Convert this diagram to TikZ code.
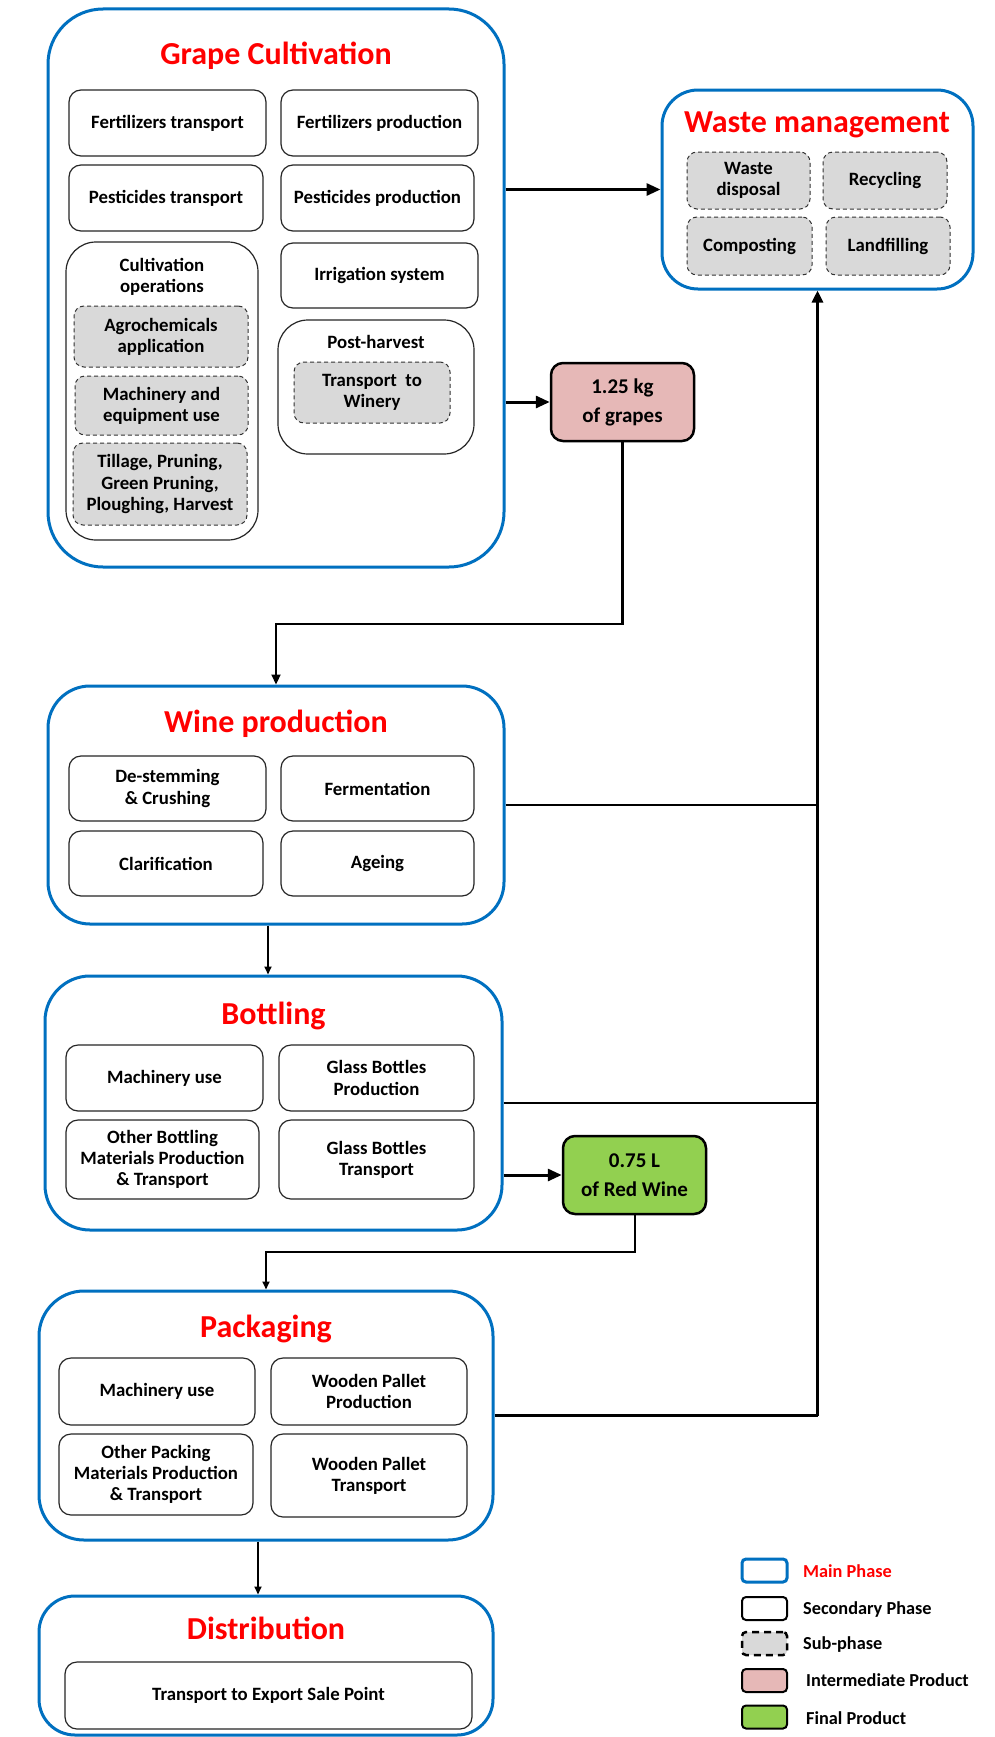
\documentclass[tikz,border=0pt]{standalone}
\usepackage{fontspec}
\setmainfont{Carlito}
\usetikzlibrary{arrows.meta}
\definecolor{mainblue}{HTML}{0070C0}
\definecolor{titlered}{HTML}{FF0000}
\definecolor{subgray}{HTML}{D9D9D9}
\definecolor{interpink}{HTML}{E6B8B7}
\definecolor{finalgreen}{HTML}{92D050}
\tikzset{
  mainph/.style={draw=mainblue, line width=3pt, rounded corners=#1, inner sep=0pt},
  mainph/.default=40pt,
  phtitle/.style={text=titlered, font=\bfseries\fontsize{32}{36}\selectfont, inner sep=0pt},
  secbox/.style={draw=black!85, line width=1.2pt, rounded corners=#1, align=center, inner sep=0pt,
    font=\bfseries\fontsize{18.8}{21.2}\selectfont},
  secbox/.default=12pt,
  subbox/.style={draw=black!80, fill=subgray, line width=1pt, dash pattern=on 4pt off 3pt,
    rounded corners=10pt, align=center, inner sep=0pt, font=\bfseries\fontsize{18.8}{21.2}\selectfont},
  txt/.style={align=center, inner sep=0pt, font=\bfseries\fontsize{18.8}{21.2}\selectfont},
  prodbox/.style={draw=black, line width=2.5pt, rounded corners=12pt, align=center, inner sep=0pt,
    font=\bfseries\fontsize{21}{29}\selectfont},
  thickarrow/.style={line width=3pt, -{Triangle[length=14pt,width=12pt]}},
  thickline/.style={line width=3.2pt},
  conn/.style={line width=2.2pt},
  connarrow/.style={line width=2.2pt, -{Triangle[length=10pt,width=9pt]}},
  lgbox/.style={minimum width=45pt, minimum height=23pt, inner sep=0pt, rounded corners=4pt},
  lgtxt/.style={anchor=west, inner sep=0pt, font=\bfseries\fontsize{18.3}{21}\selectfont},
}
\begin{document}
\begin{tikzpicture}[x=1pt, y=-1pt]
\fill[white] (0,0) rectangle (994,1737);
\useasboundingbox (0,0) rectangle (994,1737);

% ---------- Grape Cultivation ----------
\node[mainph=55pt, minimum width=456pt, minimum height=558pt] (gc) at (276,288) {};
\node[phtitle] (gct) at (276,56) {Grape Cultivation};
\node[secbox, minimum width=197pt, minimum height=66pt] (ft) at (167.5,123) {Fertilizers transport};
\node[secbox, minimum width=197pt, minimum height=66pt] (fp) at (379.5,123) {Fertilizers production};
\node[secbox, minimum width=194pt, minimum height=66pt] (pt) at (166,198) {Pesticides transport};
\node[secbox, minimum width=193pt, minimum height=66pt] (pp) at (377.5,198) {Pesticides production};
\node[secbox=30pt, minimum width=192pt, minimum height=298pt] (co) at (162,391) {};
\node[txt] (cot) at (162,277) {Cultivation\\operations};
\node[subbox, minimum width=174pt, minimum height=61pt] (ag) at (161,336.5) {Agrochemicals\\application};
\node[subbox, minimum width=173pt, minimum height=59pt] (me) at (161.5,405.5) {Machinery and\\equipment use};
\node[subbox, minimum width=174pt, minimum height=82pt] (ti) at (160,484) {Tillage, Pruning,\\Green Pruning,\\Ploughing, Harvest};
\node[secbox, minimum width=197pt, minimum height=65pt] (ir) at (379.5,275.5) {Irrigation system};
\node[secbox=30pt, minimum width=196pt, minimum height=134pt] (ph) at (376,387) {};
\node[txt] (pht) at (376,342) {Post-harvest};
\node[subbox, minimum width=156pt, minimum height=61pt] (tw) at (372,392.5) {Transport\ \ to\\Winery};

% ---------- Waste management ----------
\node[mainph=36pt, minimum width=311pt, minimum height=199pt] (wm) at (817.5,189.5) {};
\node[phtitle] (wmt) at (817,125) {Waste management};
\node[subbox, minimum width=123pt, minimum height=57pt] (wd) at (748.5,180.5) {Waste\\disposal};
\node[subbox, minimum width=124pt, minimum height=57pt] (rc) at (885,180.5) {Recycling};
\node[subbox, minimum width=125pt, minimum height=58pt] (cp) at (749.5,246) {Composting};
\node[subbox, minimum width=124pt, minimum height=58pt] (lf) at (888,246) {Landfilling};

% ---------- Intermediate product ----------
\node[prodbox, fill=interpink, minimum width=143pt, minimum height=78pt] (gr) at (622.5,402) {1.25 kg\\of grapes};

% ---------- Wine production ----------
\node[mainph=42pt, minimum width=456pt, minimum height=238pt] (wp) at (276,805) {};
\node[phtitle] (wpt) at (276,724) {Wine production};
\node[secbox, minimum width=197pt, minimum height=65pt] (ds) at (167.5,788.5) {De-stemming\\\& Crushing};
\node[secbox, minimum width=193pt, minimum height=65pt] (fe) at (377.5,788.5) {Fermentation};
\node[secbox, minimum width=194pt, minimum height=65pt] (cl) at (166,863.5) {Clarification};
\node[secbox, minimum width=193pt, minimum height=65pt] (ae) at (377.5,863.5) {Ageing};

% ---------- Bottling ----------
\node[mainph=45pt, minimum width=457pt, minimum height=254pt] (bt) at (273.5,1103) {};
\node[phtitle] (btt) at (273.5,1016) {Bottling};
\node[secbox, minimum width=197pt, minimum height=66pt] (mu) at (164.5,1078) {Machinery use};
\node[secbox, minimum width=195pt, minimum height=66pt] (gbp) at (376.5,1078) {Glass Bottles\\Production};
\node[secbox, minimum width=193pt, minimum height=79pt] (ob) at (162.5,1159.5) {Other Bottling\\Materials Production\\\& Transport};
\node[secbox, minimum width=195pt, minimum height=79pt] (gbt) at (376.5,1159.5) {Glass Bottles\\Transport};

% ---------- Final product ----------
\node[prodbox, fill=finalgreen, minimum width=143pt, minimum height=78pt] (rw) at (634.5,1175) {0.75 L\\of Red Wine};

% ---------- Packaging ----------
\node[mainph=45pt, minimum width=454pt, minimum height=249pt] (pk) at (266,1415.5) {};
\node[phtitle] (pkt) at (266,1329) {Packaging};
\node[secbox, minimum width=196pt, minimum height=67pt] (pm) at (157,1391.5) {Machinery use};
\node[secbox, minimum width=196pt, minimum height=67pt] (wpp) at (369,1391.5) {Wooden Pallet\\Production};
\node[secbox, minimum width=194pt, minimum height=81pt] (op) at (156,1474.5) {Other Packing\\Materials Production\\\& Transport};
\node[secbox, minimum width=196pt, minimum height=83pt] (wpt2) at (369,1475.5) {Wooden Pallet\\Transport};

% ---------- Distribution ----------
\node[mainph=36pt, minimum width=454pt, minimum height=139pt] (di) at (266,1665.5) {};
\node[phtitle] (dit) at (266,1628) {Distribution};
\node[secbox, minimum width=407pt, minimum height=67pt] (te) at (268.5,1695.5) {Transport to Export Sale Point};

% ---------- Connectors ----------
\draw[thickarrow] (wm.west -| gc.east) -- (wm.west);
\draw[thickarrow] (gr.west -| gc.east) -- (gr.west);
\coordinate (j1) at (276,624);
\draw[connarrow] (gr.south) |- (j1) -- (wp.north);
\coordinate (wb) at (wm.south |- pk.east);
\draw[thickline, -{Triangle[length=12pt,width=11pt]}] (wb) -- (wm.south);
\draw[conn] (wp.east) -- (wp.east -| wb);
\draw[conn] (bt.east) -- (bt.east -| wb);
\draw[conn] (pk.east) -- (wb);
\coordinate (a1) at (268,0);
\draw[line width=1.8pt, -{Triangle[length=8pt,width=7pt]}] (wp.south -| a1) -- (bt.north -| a1);
\draw[thickarrow] (rw.west -| bt.east) -- (rw.west);
\coordinate (j2) at (266,1252);
\draw[line width=2pt, -{Triangle[length=8pt,width=7pt]}] (rw.south) |- (j2) -- (pk.north);
\coordinate (a2) at (258,0);
\draw[line width=1.8pt, -{Triangle[length=8pt,width=7pt]}] (pk.south -| a2) -- (di.north -| a2);

% ---------- Legend ----------
\node[lgbox, draw=mainblue, line width=3pt] (l1) at (764.5,1570.5) {};
\node[lgtxt, text=titlered] (l1t) at (803,1571) {Main Phase};
\node[lgbox, draw=black, line width=2pt] (l2) at (764.5,1608.5) {};
\node[lgtxt] (l2t) at (803,1609) {Secondary Phase};
\node[lgbox, draw=black, fill=subgray, line width=2.5pt, dash pattern=on 7pt off 5pt] (l3) at (764.5,1643.5) {};
\node[lgtxt] (l3t) at (803,1644) {Sub-phase};
\node[lgbox, draw=black, fill=interpink, line width=2pt] (l4) at (764.5,1680.5) {};
\node[lgtxt] (l4t) at (806,1680) {Intermediate Product};
\node[lgbox, draw=black, fill=finalgreen, line width=2pt] (l5) at (764.5,1717) {};
\node[lgtxt] (l5t) at (806,1718) {Final Product};
\end{tikzpicture}
\end{document}
